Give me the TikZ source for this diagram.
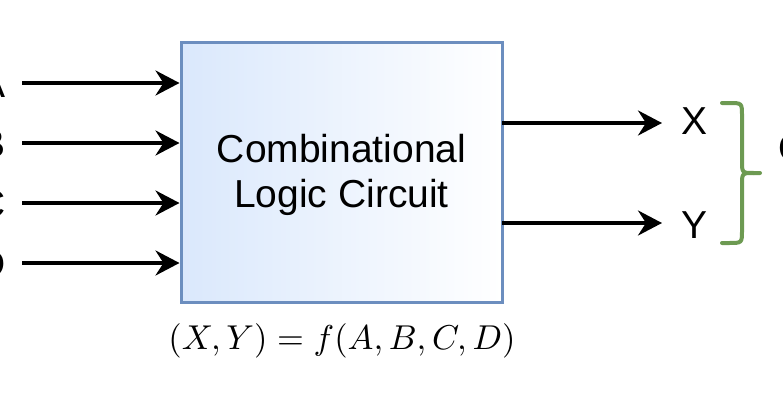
\documentclass[tikz,border=0pt]{standalone}
\usepackage{graphicx}
\usepackage[no-math]{fontspec}
\newfontfamily\arialf{Liberation Sans}
\usetikzlibrary{arrows.meta}
\definecolor{boxblue}{HTML}{DAE8FC}
\definecolor{boxborder}{HTML}{6C8EBF}
\definecolor{bracegreen}{HTML}{6D9A52}
\begin{document}
\begin{tikzpicture}[x=1pt,y=-1pt,
  arr/.style={line width=3.5pt,-{Stealth[length=24pt,width=25pt,inset=8pt]}},
  lbl/.style={font=\arialf\fontsize{39}{45}\selectfont, inner sep=0pt},
  logicbox/.style={draw=boxborder, line width=3pt, left color=boxblue, right color=white,
    minimum width=321pt, minimum height=259pt, inner sep=0pt},
  bracestyle/.style={draw=bracegreen, line width=4pt, line cap=round, line join=round}]
\useasboundingbox (0,0) rectangle (783,404);
% block
\node[logicbox] (box) at (341.5,172.5) {};
\node[lbl, align=center] (boxtext) at (341.5,175) {Combinational\\Logic Circuit};
% inputs
\foreach \n/\yy in {A/83,B/143,C/203,D/263}{
  \coordinate (in\n) at (22,\yy);
  \node[lbl, anchor=east] (lab\n) at (6,\yy+1) {\n};
  \draw[arr] (in\n) -- (in\n -| box.west);
}
% outputs
\coordinate (outX) at (502,123);
\coordinate (outY) at (502,223);
\coordinate (tipX) at (662,123);
\coordinate (tipY) at (662,223);
\draw[arr] (outX) -- (tipX);
\draw[arr] (outY) -- (tipY);
\node[lbl] (labX) at (694,121) {X};
\node[lbl] (labY) at (694,225) {Y};
% brace
\draw[bracestyle] (722,103) -- (729,103) .. controls (742,103) .. (742,116)
  -- (742,161) .. controls (742,173) .. (754,173) -- (760,173);
\draw[bracestyle] (722,243) -- (729,243) .. controls (742,243) .. (742,230)
  -- (742,185) .. controls (742,173) .. (754,173);
\node[lbl, anchor=west] (outlabel) at (778,152) {Outputs};
% formula
\node[inner sep=0pt] (formula) at (342,341)
  {\scalebox{3.45}{$(X,Y)=f(A,B,C,D)$}};
\end{tikzpicture}
\end{document}
